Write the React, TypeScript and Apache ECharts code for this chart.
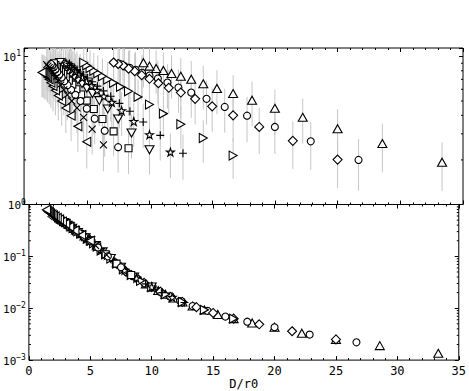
import React, { useEffect, useRef } from 'react';
import * as echarts from 'echarts';

const FONT = 'DejaVu Sans Mono';

// ---- tick labels / axis extents ----
const xTicks = [0, 5, 10, 15, 20, 25, 30, 35];
const topMinorTicks = [2, 3, 4, 5, 6, 7, 8, 9];
const bottomMinorTicks = [
  0.002, 0.003, 0.004, 0.005, 0.006, 0.007, 0.008, 0.009,
  0.02, 0.03, 0.04, 0.05, 0.06, 0.07, 0.08, 0.09,
  0.2, 0.3, 0.4, 0.5, 0.6, 0.7, 0.8, 0.9,
];
const X_MIN = 0;
const X_MAX = 35;
const TOP_MIN = 1;
const TOP_MAX = 11.4;
const BOT_MIN = 0.001;
const BOT_MAX = 1;

// ---- series: triangle up ----
const triUpX = [33.33, 28.57, 25.0, 22.22, 20.0, 18.18, 16.67, 15.38, 14.29, 13.33, 12.5, 11.76, 11.11, 10.53, 10.0, 9.52];
const triUpTop = [1.93, 2.58, 3.25, 3.88, 4.46, 5.06, 5.61, 6.07, 6.53, 7.02, 7.35, 7.67, 8.04, 8.3, 8.6, 9.06];
const triUpErr = [0.7, 0.93, 1.15, 1.3, 1.5, 1.7, 1.85, 2.0, 2.15, 2.3, 2.4, 2.5, 2.6, 2.7, 2.8, 2.9];
const triUpBottom = [0.00135, 0.0019, 0.0025, 0.0033, 0.0043, 0.0052, 0.0063, 0.0076, 0.0093, 0.011, 0.0132, 0.0158, 0.0186, 0.0219, 0.0257, 0.0295];

// ---- circle (large D) ----
const circleX = [26.67, 22.86, 20.0, 17.78, 16.0, 14.55, 13.33, 12.31, 11.43, 10.67, 10.0, 9.41, 8.89, 8.42, 8.0, 7.62];
const circleTop = [2.0, 2.67, 3.34, 3.98, 4.56, 5.17, 5.7, 6.16, 6.66, 7.09, 7.43, 7.75, 8.13, 8.38, 8.6, 8.92];
const circleErr = [0.76, 0.95, 1.15, 1.35, 1.5, 1.7, 1.85, 2.0, 2.2, 2.3, 2.4, 2.5, 2.6, 2.7, 2.8, 2.9];
const circleBottom = [0.0022, 0.0031, 0.0043, 0.0055, 0.0069, 0.0089, 0.011, 0.0138, 0.017, 0.0209, 0.0257, 0.0302, 0.0363, 0.0417, 0.049, 0.0589];

// ---- diamond ----
const diamondX = [25.0, 21.43, 18.75, 16.67, 15.0, 13.64, 12.5, 11.54, 10.71, 10.0, 9.38, 8.82, 8.33, 7.89, 7.5, 7.14];
const diamondTop = [2.01, 2.69, 3.34, 4.0, 4.6, 5.17, 5.7, 6.14, 6.59, 7.06, 7.47, 7.95, 8.26, 8.69, 8.9, 9.1];
const diamondErr = [0.72, 0.95, 1.15, 1.35, 1.5, 1.7, 1.85, 2.0, 2.15, 2.3, 2.4, 2.55, 2.65, 2.8, 2.85, 2.9];
const diamondBottom = [0.0025, 0.0036, 0.0049, 0.0063, 0.0081, 0.0105, 0.0132, 0.0166, 0.0209, 0.0257, 0.0309, 0.0372, 0.0437, 0.0513, 0.0617, 0.0724];

// ---- triangle right ----
const triRightX = [16.67, 14.29, 12.5, 11.11, 10.0, 9.09, 8.33, 7.69, 7.14, 6.67, 6.25, 5.88, 5.56, 5.26, 5.0, 4.76];
const triRightTop = [2.14, 2.81, 3.48, 4.11, 4.73, 5.33, 5.82, 6.23, 6.63, 6.98, 7.35, 7.7, 8.0, 8.35, 8.7, 9.05];
const triRightErr = [0.65, 0.9, 1.1, 1.3, 1.5, 1.7, 1.85, 2.0, 2.1, 2.2, 2.35, 2.45, 2.55, 2.65, 2.75, 2.9];
const triRightBottom = [0.0063, 0.0093, 0.0132, 0.0186, 0.0257, 0.0339, 0.0437, 0.0562, 0.0724, 0.0912, 0.11, 0.129, 0.155, 0.178, 0.2, 0.219];

// ---- triangle down ----
const triDownX = [10.0, 8.57, 7.5, 6.67, 6.0, 5.45, 5.0, 4.62, 4.29, 4.0, 3.75, 3.53, 3.33, 3.16, 3.0, 2.86];
const triDownTop = [2.34, 3.04, 3.78, 4.42, 5.03, 5.61, 6.1, 6.55, 6.95, 7.35, 7.7, 8.0, 8.3, 8.6, 8.85, 9.1];
const triDownErr = [0.75, 1.0, 1.25, 1.45, 1.65, 1.8, 1.95, 2.1, 2.25, 2.35, 2.5, 2.6, 2.7, 2.8, 2.85, 2.95];
const triDownBottom = [0.0257, 0.0398, 0.0617, 0.0912, 0.123, 0.162, 0.2, 0.229, 0.257, 0.288, 0.316, 0.347, 0.372, 0.398, 0.427, 0.447];

// ---- star ----
const starX = [11.67, 10.0, 8.75, 7.78, 7.0, 6.36, 5.83, 5.38, 5.0, 4.67, 4.38, 4.12, 3.89, 3.68, 3.5, 3.33];
const starTop = [2.26, 2.96, 3.64, 4.3, 4.9, 5.38, 5.9, 6.35, 6.8, 7.2, 7.55, 7.9, 8.2, 8.5, 8.75, 9.0];
const starErr = [0.75, 0.95, 1.2, 1.4, 1.6, 1.75, 1.9, 2.05, 2.2, 2.3, 2.45, 2.55, 2.65, 2.75, 2.85, 2.9];
const starBottom = [0.0162, 0.0257, 0.038, 0.0537, 0.0776, 0.105, 0.135, 0.166, 0.2, 0.224, 0.251, 0.275, 0.302, 0.324, 0.347, 0.372];

// ---- plus ----
const plusX = [12.67, 10.86, 9.5, 8.44, 7.6, 6.91, 6.33, 5.85, 5.43, 5.07, 4.75, 4.47, 4.22, 4.0, 3.8, 3.62];
const plusTop = [2.22, 2.93, 3.61, 4.26, 4.82, 5.38, 5.85, 6.3, 6.75, 7.15, 7.5, 7.85, 8.15, 8.45, 8.7, 8.95];
const plusErr = [0.75, 0.95, 1.2, 1.4, 1.55, 1.75, 1.9, 2.05, 2.2, 2.3, 2.4, 2.55, 2.65, 2.75, 2.8, 2.9];
const plusBottom = [0.0129, 0.02, 0.0295, 0.0417, 0.0589, 0.0813, 0.107, 0.132, 0.162, 0.195, 0.219, 0.24, 0.263, 0.288, 0.309, 0.331];

// ---- square ----
const squareX = [8.33, 7.14, 6.25, 5.56, 5.0, 4.55, 4.17, 3.85, 3.57, 3.33, 3.13, 2.94, 2.78, 2.63, 2.5, 2.38];
const squareTop = [2.4, 3.12, 3.78, 4.42, 5.03, 5.53, 6.0, 6.45, 6.85, 7.25, 7.6, 7.9, 8.2, 8.5, 8.75, 9.0];
const squareErr = [0.8, 1.0, 1.25, 1.45, 1.65, 1.8, 1.95, 2.1, 2.2, 2.35, 2.45, 2.55, 2.65, 2.75, 2.85, 2.9];
const squareBottom = [0.0437, 0.0724, 0.11, 0.155, 0.2, 0.234, 0.269, 0.302, 0.339, 0.372, 0.407, 0.437, 0.457, 0.49, 0.513, 0.537];

// ---- small circle ----
const smallCircleX = [7.5, 6.43, 5.63, 5.0, 4.5, 4.09, 3.75, 3.46, 3.21, 3.0, 2.81, 2.65, 2.5, 2.37, 2.25, 2.14];
const smallCircleTop = [2.44, 3.15, 3.8, 4.44, 5.0, 5.5, 5.95, 6.4, 6.8, 7.2, 7.55, 7.85, 8.15, 8.45, 8.7, 8.9];
const smallCircleErr = [0.8, 1.05, 1.25, 1.45, 1.6, 1.8, 1.95, 2.1, 2.2, 2.35, 2.45, 2.55, 2.65, 2.75, 2.8, 2.9];
const smallCircleBottom = [0.0617, 0.1, 0.148, 0.2, 0.24, 0.282, 0.316, 0.355, 0.389, 0.427, 0.457, 0.49, 0.513, 0.537, 0.562, 0.589];

// ---- cross ----
const crossX = [6.33, 5.43, 4.75, 4.22, 3.8, 3.45, 3.17, 2.92, 2.71, 2.53, 2.38, 2.24, 2.11, 2.0, 1.9, 1.81];
const crossTop = [2.53, 3.23, 3.88, 4.49, 5.0, 5.5, 5.95, 6.4, 6.8, 7.15, 7.5, 7.8, 8.1, 8.4, 8.6, 8.8];
const crossErr = [0.85, 1.05, 1.25, 1.45, 1.6, 1.8, 1.95, 2.1, 2.2, 2.3, 2.45, 2.55, 2.6, 2.7, 2.8, 2.85];
const crossBottom = [0.107, 0.162, 0.219, 0.263, 0.309, 0.355, 0.398, 0.437, 0.479, 0.501, 0.537, 0.562, 0.589, 0.617, 0.646, 0.676];

// ---- triangle left ----
const triLeftX = [5.0, 4.29, 3.75, 3.33, 3.0, 2.73, 2.5, 2.31, 2.14, 2.0, 1.88, 1.76, 1.67, 1.58, 1.5, 1.43];
const triLeftTop = [2.65, 3.37, 3.98, 4.49, 5.0, 5.45, 5.9, 6.3, 6.65, 7.0, 7.25, 7.45, 7.6, 7.7, 7.8, 7.8];
const triLeftErr = [0.9, 1.1, 1.3, 1.45, 1.6, 1.75, 1.9, 2.05, 2.15, 2.25, 2.35, 2.4, 2.45, 2.5, 2.5, 2.5];
const triLeftBottom = [0.2, 0.257, 0.316, 0.372, 0.427, 0.468, 0.513, 0.55, 0.589, 0.617, 0.646, 0.676, 0.708, 0.724, 0.759, 0.794];

const STAR = 'path://M5,0L6.18,3.6L10,3.6L6.9,5.9L8.1,9.5L5,7.3L1.9,9.5L3.1,5.9L0,3.6L3.82,3.6Z';
const PLUS = 'path://M0,5L10,5M5,0L5,10';
const CROSS = 'path://M0,0L10,10M10,0L0,10';

type Def = { x: number[]; top: number[]; err: number[]; bottom: number[]; symbol: string; size: number | number[]; rotate: number };

const defs: Def[] = [
  { x: triUpX, top: triUpTop, err: triUpErr, bottom: triUpBottom, symbol: 'triangle', size: [9, 8], rotate: 0 },
  { x: circleX, top: circleTop, err: circleErr, bottom: circleBottom, symbol: 'circle', size: 7, rotate: 0 },
  { x: diamondX, top: diamondTop, err: diamondErr, bottom: diamondBottom, symbol: 'diamond', size: [9, 9], rotate: 0 },
  { x: triRightX, top: triRightTop, err: triRightErr, bottom: triRightBottom, symbol: 'triangle', size: [9, 8], rotate: -90 },
  { x: triDownX, top: triDownTop, err: triDownErr, bottom: triDownBottom, symbol: 'triangle', size: [9, 8], rotate: 180 },
  { x: starX, top: starTop, err: starErr, bottom: starBottom, symbol: STAR, size: 8, rotate: 0 },
  { x: plusX, top: plusTop, err: plusErr, bottom: plusBottom, symbol: PLUS, size: 8, rotate: 0 },
  { x: squareX, top: squareTop, err: squareErr, bottom: squareBottom, symbol: 'rect', size: 7, rotate: 0 },
  { x: smallCircleX, top: smallCircleTop, err: smallCircleErr, bottom: smallCircleBottom, symbol: 'circle', size: 7, rotate: 0 },
  { x: crossX, top: crossTop, err: crossErr, bottom: crossBottom, symbol: CROSS, size: 7, rotate: 0 },
  { x: triLeftX, top: triLeftTop, err: triLeftErr, bottom: triLeftBottom, symbol: 'triangle', size: [9, 8], rotate: 90 },
];

const powLabel = (hideZero: boolean) => (v: number) => {
  const e = Math.log10(v);
  const r = Math.round(e);
  if (Math.abs(e - r) > 1e-6) return '';
  if (hideZero && r === 0) return '';
  const s = r < 0 ? '\u2212' + Math.abs(r) : String(r);
  return `{b|10}{s|${s}}`;
};

const richLabel = {
  b: { fontFamily: FONT, fontSize: 11, color: '#000', verticalAlign: 'bottom', lineHeight: 13, padding: [3, 0, 0, 0] },
  s: { fontFamily: FONT, fontSize: 8, color: '#000', verticalAlign: 'top', lineHeight: 9 },
};

const xAxisBase = (grid: number, pos: 'top' | 'bottom', labels: boolean) => ({
  type: 'value',
  gridIndex: grid,
  position: pos,
  min: X_MIN,
  max: X_MAX,
  interval: 5,
  axisLine: { show: false, onZero: false },
  axisTick: { show: true, inside: true, length: 4, lineStyle: { color: '#000', width: 1 } },
  minorTick: { show: true, splitNumber: 5, length: 2, lineStyle: { color: '#000', width: 1 } },
  splitLine: { show: false },
  minorSplitLine: { show: false },
  axisLabel: {
    show: labels,
    margin: 5,
    fontFamily: FONT,
    fontSize: 12,
    color: '#000',
    formatter: (v: number) => (xTicks.includes(v) ? String(v) : ''),
  },
});

const yAxisBase = (grid: number, pos: 'left' | 'right', min: number, max: number, labels: boolean, hideZero: boolean) => ({
  type: 'log',
  logBase: 10,
  gridIndex: grid,
  position: pos,
  min,
  max,
  axisLine: { show: false, onZero: false },
  axisTick: { show: true, inside: true, length: 4, lineStyle: { color: '#000', width: 1 } },
  splitLine: { show: false },
  axisLabel: {
    show: labels,
    margin: 3,
    formatter: powLabel(hideZero),
    rich: richLabel,
  },
});

const minorTickSeries = (grid: number, values: number[]) => ({
  type: 'custom',
  xAxisIndex: grid === 0 ? 0 : 2,
  yAxisIndex: grid === 0 ? 0 : 2,
  silent: true,
  z: 5,
  data: values.map((v) => [X_MIN, v]),
  renderItem: (_p: any, api: any) => {
    const v = api.value(1);
    const l = api.coord([X_MIN, v]);
    const r = api.coord([X_MAX, v]);
    return {
      type: 'group',
      children: [
        { type: 'line', shape: { x1: l[0], y1: l[1], x2: l[0] + 2, y2: l[1] }, style: { stroke: '#000', lineWidth: 1 } },
        { type: 'line', shape: { x1: r[0], y1: r[1], x2: r[0] - 2, y2: r[1] }, style: { stroke: '#000', lineWidth: 1 } },
      ],
    };
  },
});

const errorData: number[][] = [];
defs.forEach((d) => d.x.forEach((xx, i) => errorData.push([xx, d.top[i], d.err[i]])));

const errorSeries = {
  type: 'custom',
  xAxisIndex: 0,
  yAxisIndex: 0,
  silent: true,
  clip: true,
  z: 1,
  data: errorData,
  renderItem: (_p: any, api: any) => {
    const x = api.value(0);
    const y = api.value(1);
    const e = api.value(2);
    const hi = Math.min(y + e, TOP_MAX);
    const lo = Math.max(y - e, TOP_MIN);
    const p1 = api.coord([x, hi]);
    const p2 = api.coord([x, lo]);
    return {
      type: 'line',
      shape: { x1: p1[0], y1: p1[1], x2: p2[0], y2: p2[1] },
      style: { stroke: '#c6c6c6', lineWidth: 1 },
    };
  },
};

const scatterSeries = (d: Def, panel: 0 | 1) => ({
  type: 'scatter',
  xAxisIndex: panel === 0 ? 0 : 2,
  yAxisIndex: panel === 0 ? 0 : 2,
  silent: true,
  z: 3,
  symbol: d.symbol,
  symbolSize: d.size,
  symbolRotate: d.rotate,
  data: d.x.map((xx, i) => [xx, panel === 0 ? d.top[i] : d.bottom[i]]),
  itemStyle: { color: '#fff', borderColor: '#000', borderWidth: 1.1, opacity: 1 },
});

const option = {
  animation: false,
  textStyle: { fontFamily: FONT },
  grid: [
    { left: 24, top: 48, width: 439, height: 156.5, show: true, borderColor: '#000', borderWidth: 1, backgroundColor: 'transparent' },
    { left: 24, top: 204.5, width: 439, height: 157.2, show: true, borderColor: '#000', borderWidth: 1, backgroundColor: 'transparent' },
  ],
  xAxis: [
    xAxisBase(0, 'bottom', false),
    xAxisBase(0, 'top', false),
    {
      ...xAxisBase(1, 'bottom', true),
      name: 'D/r0',
      nameLocation: 'middle',
      nameGap: 16,
      nameTextStyle: { fontFamily: FONT, fontSize: 12, color: '#000' },
    },
    xAxisBase(1, 'top', false),
  ],
  yAxis: [
    yAxisBase(0, 'left', TOP_MIN, TOP_MAX, true, true),
    yAxisBase(0, 'right', TOP_MIN, TOP_MAX, false, true),
    yAxisBase(1, 'left', BOT_MIN, BOT_MAX, true, false),
    yAxisBase(1, 'right', BOT_MIN, BOT_MAX, false, false),
  ],
  series: [
    errorSeries,
    minorTickSeries(0, topMinorTicks),
    minorTickSeries(1, bottomMinorTicks),
    ...defs.map((d) => scatterSeries(d, 0)),
    ...defs.map((d) => scatterSeries(d, 1)),
  ],
};

export default function App() {
  const ref = useRef<HTMLDivElement>(null);
  useEffect(() => {
    const chart = echarts.init(ref.current!, null, { renderer: 'svg' });
    chart.setOption(option as any);
    return () => chart.dispose();
  }, []);
  return <div ref={ref} style={{ position: 'absolute', left: 0, top: 0, width: 469, height: 391 }} />;
}
